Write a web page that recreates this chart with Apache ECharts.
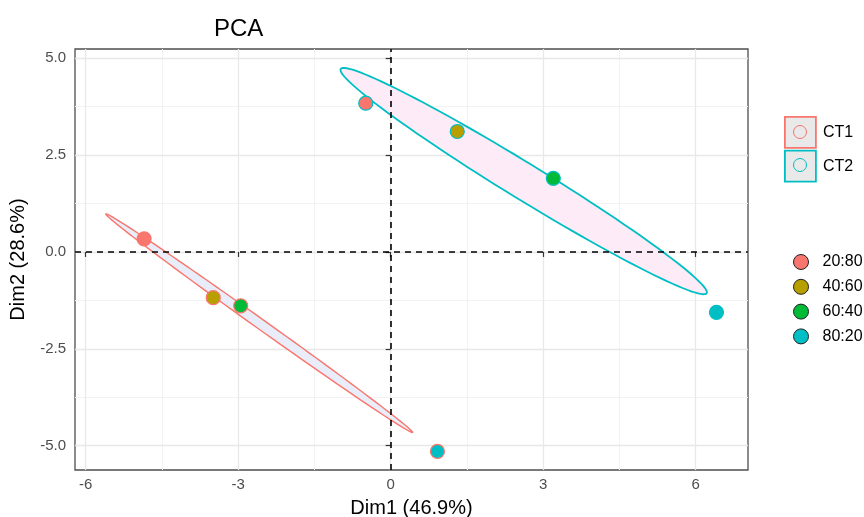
<!DOCTYPE html>
<html>
<head>
<meta charset="utf-8">
<script src="https://cdn.jsdelivr.net/npm/echarts@6/dist/echarts.min.js"></script>
<style>
  html, body { margin: 0; padding: 0; background: #fff; }
  #chart { width: 864px; height: 517px; }
</style>
</head>
<body>
<div id="chart"></div>
<script>
// groups and ratio labels
const groups = ['CT1', 'CT2'];
const ratios = ['20:80', '40:60', '60:40', '80:20'];

// PCA scores, one entry per ratio
const dim1CT1 = [-4.85, -3.49, -2.95, 0.92];
const dim2CT1 = [0.34, -1.18, -1.39, -5.15];
const dim1CT2 = [-0.49, 1.31, 3.20, 6.41];
const dim2CT2 = [3.84, 3.11, 1.90, -1.56];

// confidence ellipses: centre, major semi-axis vector, minor semi-axis vector (data units)
const ellipseCentre = [[-2.585, -1.84], [2.617, 1.829]];
const ellipseMajor = [[3.017, -2.82], [3.60, -2.895]];
const ellipseMinor = [[-0.057, -0.105], [-0.185, -0.396]];

// axis ticks and grid breaks
const xTicks = [-6, -3, 0, 3, 6];
const yTicks = [-5, -2.5, 0, 2.5, 5];
const xMinor = [-4.5, -1.5, 1.5, 4.5];
const yMinor = [-3.75, -1.25, 1.25, 3.75];

const groupColors = ['#F8766D', '#00BFC4'];
const groupFills = ['#e8edf9', '#fdebf8'];
const ratioColors = ['#F8766D', '#B79F00', '#00BA38', '#00BFC4'];
const font = 'Liberation Sans, Arial, sans-serif';

const chart = echarts.init(document.getElementById('chart'));

function ellipseRender(gi) {
  return function (params, api) {
    const cx = api.value(0), cy = api.value(1);
    const ax = api.value(2), ay = api.value(3);
    const bx = api.value(4), by = api.value(5);
    const pts = [];
    for (let k = 0; k < 120; k++) {
      const t = 2 * Math.PI * k / 120;
      pts.push(api.coord([cx + ax * Math.cos(t) + bx * Math.sin(t),
                          cy + ay * Math.cos(t) + by * Math.sin(t)]));
    }
    return {
      type: 'polygon',
      shape: { points: pts },
      style: { fill: groupFills[gi], stroke: groupColors[gi], lineWidth: gi === 0 ? 1.4 : 1.8 }
    };
  };
}

const series = [];

// panel grid (major + minor) drawn through the axes
const gridLine = (color, width) => ({ color: color, width: width, type: 'solid' });
series.push({
  type: 'scatter', data: [], silent: true, z: 0,
  markLine: {
    silent: true, symbol: ['none', 'none'], animation: false, z: 0,
    label: { show: false },
    data: [
      ...xMinor.map(v => ({ xAxis: v, lineStyle: gridLine('#f2f2f2', 1) })),
      ...yMinor.map(v => ({ yAxis: v, lineStyle: gridLine('#f2f2f2', 1) })),
      ...xTicks.map(v => ({ xAxis: v, lineStyle: gridLine('#e8e8e8', 1.3) })),
      ...yTicks.map(v => ({ yAxis: v, lineStyle: gridLine('#e8e8e8', 1.3) }))
    ]
  }
});

groups.forEach((g, gi) => {
  series.push({
    name: g,
    type: 'custom',
    z: 2,
    itemStyle: { color: '#e9e9e9', borderColor: groupColors[gi] },
    renderItem: ellipseRender(gi),
    encode: { x: 0, y: 1 },
    data: [[ellipseCentre[gi][0], ellipseCentre[gi][1],
            ellipseMajor[gi][0], ellipseMajor[gi][1],
            ellipseMinor[gi][0], ellipseMinor[gi][1]]]
  });
});

// dashed reference lines at zero
series.push({
  type: 'scatter', data: [], silent: true, z: 3,
  markLine: {
    silent: true, symbol: ['none', 'none'], animation: false, z: 3,
    label: { show: false },
    lineStyle: { color: '#000', width: 1.6, type: [6, 5] },
    data: [{ xAxis: 0 }, { yAxis: 0 }]
  }
});

ratios.forEach((r, i) => {
  series.push({
    name: r,
    type: 'scatter',
    z: 4,
    symbol: 'circle',
    symbolSize: 14,
    itemStyle: { color: ratioColors[i], borderWidth: 1.2, opacity: 1 },
    data: [
      { value: [dim1CT1[i], dim2CT1[i]], itemStyle: { borderColor: groupColors[0] } },
      { value: [dim1CT2[i], dim2CT2[i]], itemStyle: { borderColor: groupColors[1] } }
    ]
  });
});

chart.setOption({
  animation: false,
  backgroundColor: '#fff',
  title: {
    text: 'PCA',
    left: 209, top: 12,
    textStyle: { fontFamily: font, fontSize: 24, fontWeight: 'normal', color: '#000' }
  },
  grid: {
    left: 75, right: 116, top: 49, bottom: 47,
    outerBoundsMode: 'none', containLabel: false,
    show: true, borderColor: '#4d4d4d', borderWidth: 1.3, backgroundColor: 'transparent'
  },
  legend: [
    {
      data: groups.map((g, gi) => ({
        name: g, icon: 'rect',
        itemStyle: { color: '#e9e9e9', borderColor: groupColors[gi], borderWidth: 1.8 }
      })),
      orient: 'vertical', left: 779, top: 111,
      itemWidth: 31, itemHeight: 31, itemGap: 1,
      textStyle: { fontFamily: font, fontSize: 16, color: '#000', padding: [0, 0, 0, 2] }
    },
    {
      data: groups.map((g, gi) => ({
        name: g, icon: 'circle',
        itemStyle: { color: 'transparent', borderColor: groupColors[gi], borderWidth: 1 }
      })),
      orient: 'vertical', left: 788, top: 120, z: 5,
      selectedMode: false,
      itemWidth: 13, itemHeight: 13, itemGap: 19,
      formatter: () => '',
      textStyle: { fontSize: 8, lineHeight: 8 }
    },
    {
      data: ratios.map(r => ({ name: r, icon: 'circle' })),
      orient: 'vertical', left: 788, top: 249,
      itemWidth: 15, itemHeight: 15, itemGap: 8.8,
      itemStyle: { borderColor: '#222', borderWidth: 1 },
      textStyle: { fontFamily: font, fontSize: 16, color: '#000', padding: [0, 0, 0, 9] }
    }
  ],
  xAxis: {
    type: 'value', min: -6.21, max: 7.03,
    name: 'Dim1 (46.9%)', nameLocation: 'middle', nameGap: 28,
    nameTextStyle: { fontFamily: font, fontSize: 20, color: '#000' },
    axisLine: { show: false },
    splitLine: { show: false },
    axisTick: { show: true, customValues: xTicks, length: 5, inside: false,
                lineStyle: { color: '#333', width: 1.2 } },
    axisLabel: { customValues: xTicks, fontFamily: font, fontSize: 15, color: '#4d4d4d', margin: 7 }
  },
  yAxis: {
    type: 'value', min: -5.63, max: 5.24,
    name: 'Dim2 (28.6%)', nameLocation: 'middle', nameGap: 47,
    nameTextStyle: { fontFamily: font, fontSize: 20, color: '#000' },
    axisLine: { show: false },
    splitLine: { show: false },
    axisTick: { show: true, customValues: yTicks, length: 5, inside: false,
                lineStyle: { color: '#333', width: 1.2 } },
    axisLabel: { customValues: yTicks, fontFamily: font, fontSize: 15, color: '#4d4d4d', margin: 9,
                 formatter: v => v.toFixed(1) }
  },
  series: series
});
</script>
</body>
</html>
